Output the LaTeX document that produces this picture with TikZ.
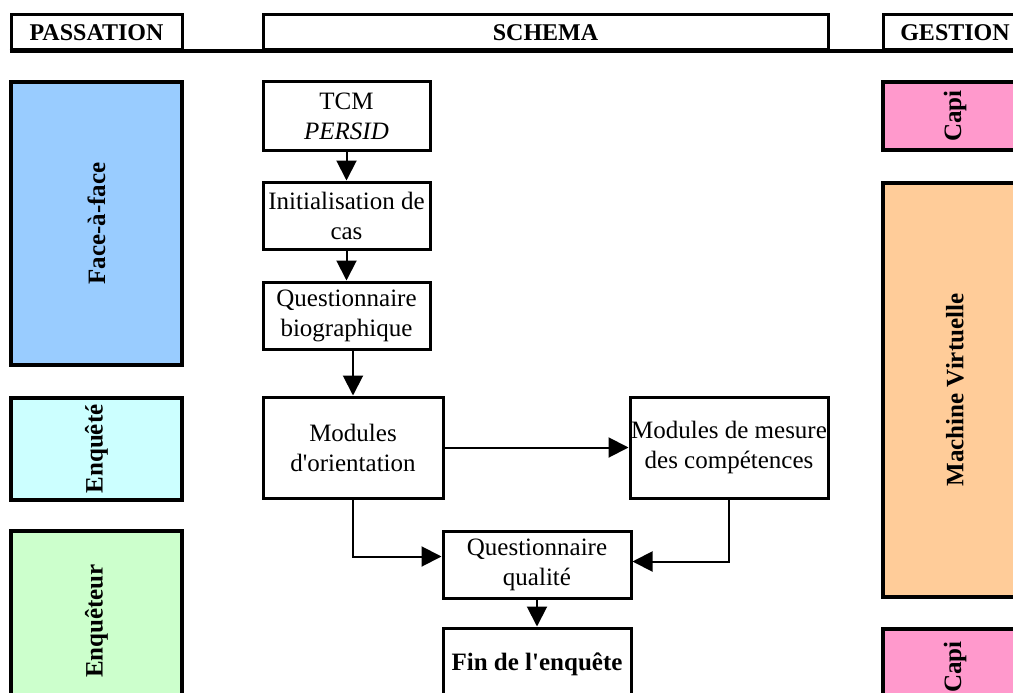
\documentclass[tikz,border=0pt]{standalone}
\usepackage{fontspec}
\setmainfont{Liberation Serif}
\usepackage{tikz}
\usetikzlibrary{arrows.meta}
\definecolor{bleu}{HTML}{99CCFF}
\definecolor{cyanclair}{HTML}{CCFFFF}
\definecolor{vertclair}{HTML}{CCFFCC}
\definecolor{rose}{HTML}{FF99CC}
\definecolor{orange}{HTML}{FFCC99}
\begin{document}
\begin{tikzpicture}[x=1pt,y=-1pt,
    titre/.style={draw,line width=3pt,minimum height=35pt,inner sep=0pt,
      font=\fontsize{24}{28}\selectfont\bfseries},
    cote/.style={draw,line width=3.5pt,rotate=90,inner sep=0pt,
      font=\fontsize{25}{28}\selectfont\bfseries},
    etape/.style={draw,line width=3pt,fill=white,inner sep=0pt,align=center,
      font=\fontsize{25}{30}\selectfont},
    fleche/.style={line width=2pt,-{Triangle[length=20pt,width=20pt]}}]
  \useasboundingbox (0,0) rectangle (1013,693);
  % en-tetes
  \node[titre,minimum width=171pt] (passation) at (96.5,32.5) {PASSATION};
  \node[titre,minimum width=565pt] (schema) at (545.5,32.5) {SCHEMA};
  \node[titre,minimum width=144pt] (gestion) at (955,32.5) {GESTION};
  \draw[line width=4pt] (passation.south west) -- (gestion.south east);
  % passation
  \node[cote,fill=bleu,minimum width=283pt,minimum height=171pt] (face) at (96.5,223.5) {Face-à-face};
  \node[cote,fill=cyanclair,minimum width=102pt,minimum height=171pt] (enquete) at (96.5,449) {Enquêté};
  \node[cote,fill=vertclair,minimum width=180pt,minimum height=171pt] (enqueteur) at (96.5,621) {Enquêteur};
  % gestion
  \node[cote,fill=rose,minimum width=68pt,minimum height=144pt] (capi) at (955,116) {Capi};
  \node[cote,fill=orange,minimum width=414pt,minimum height=144pt] (machine) at (955,390) {Machine Virtuelle};
  \node[cote,fill=rose,minimum width=76pt,minimum height=144pt] (capibis) at (955,667) {Capi};
  % schema
  \node[etape,minimum width=167pt,minimum height=68pt] (tcm) at (346.5,116) {TCM\\\textit{PERSID}};
  \node[etape,minimum width=167pt,minimum height=67pt] (init) at (346.5,215.5) {Initialisation de\\cas};
  \node[etape,minimum width=167pt,minimum height=67pt] (bio) at (346.5,315.5) {Questionnaire\\biographique};
  \node[etape,minimum width=180pt,minimum height=101pt] (orient) at (353,447.5) {Modules\\d\textquotesingle orientation};
  \node[etape,minimum width=198pt,minimum height=101pt] (mesure) at (729,447.5) {Modules de mesure\\des compétences};
  \node[etape,minimum width=188pt,minimum height=67pt] (qualite) at (537,564.5) {Questionnaire\\qualité};
  \node[etape,minimum width=188pt,minimum height=72pt,font=\fontsize{25}{30}\selectfont\bfseries] (fin) at (537,664) {Fin de l\textquotesingle enquête};
  \draw[fleche] (tcm) -- (init);
  \draw[fleche] (init) -- (bio);
  \draw[fleche] (orient.north |- bio.south) -- (orient.north);
  \draw[fleche] (orient) -- (mesure);
  \draw[fleche] (orient.south) |- ([yshift=8pt]qualite.west);
  \draw[fleche] (mesure.south) |- ([yshift=3pt]qualite.east);
  \draw[fleche] (qualite) -- (fin);
\end{tikzpicture}
\end{document}
